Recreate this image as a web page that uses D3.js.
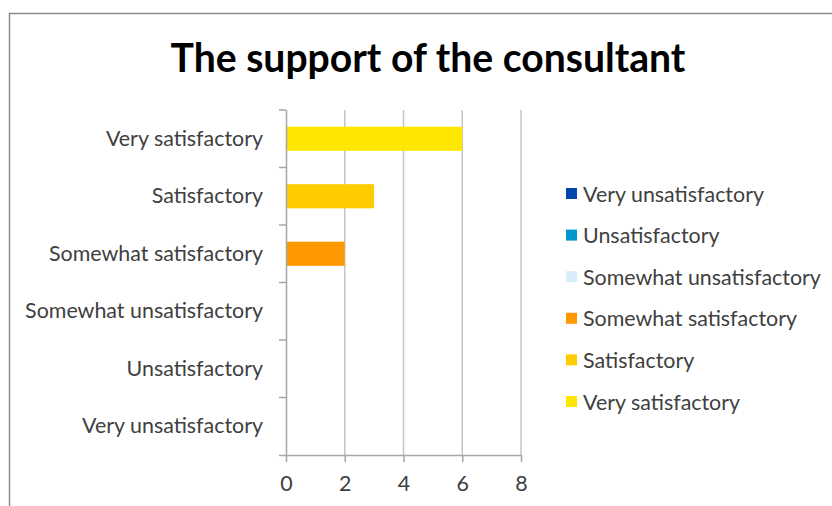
<!DOCTYPE html>
<html><head><meta charset="utf-8">
<script src="https://cdn.jsdelivr.net/npm/d3@7"></script>
<style>body{margin:0;background:#fff}svg{display:block}</style>
</head><body>
<script>
const title = "The support of the consultant";
const categories = ["Very unsatisfactory","Unsatisfactory","Somewhat unsatisfactory","Somewhat satisfactory","Satisfactory","Very satisfactory"];
const values = [0,0,0,2,3,6];
const colors = ["#0047AB","#0099CC","#D9EDF8","#FF9900","#FFCC00","#FFE600"];
const xTicks = [0,2,4,6,8];

const W=832,H=506;
const svg=d3.select("body").append("svg").attr("width",W).attr("height",H);
const font="Lato, 'Open Sans', sans-serif";

function fitSize(txt, weight, target){
  const t=svg.append("text").attr("font-family",font).attr("font-weight",weight).attr("font-size",20).text(txt);
  const w=t.node().getComputedTextLength(); t.remove();
  return 20*target/w;
}
const labelSize=fitSize("Somewhat unsatisfactory","normal",238);
const titleSize=fitSize(title,"bold",515);

svg.append("rect").attr("x",9.5).attr("y",13.5).attr("width",840).attr("height",520)
  .attr("fill","#fff").attr("stroke","#8c8c8c").attr("stroke-width",1.5);

svg.append("text").attr("x",428).attr("y",72).attr("text-anchor","middle")
  .attr("font-family",font).attr("font-weight","bold").attr("font-size",titleSize)
  .attr("fill","#000").text(title);

const x=d3.scaleLinear().domain([0,8]).range([286,521]);
const y=d3.scaleBand().domain(categories.slice().reverse()).range([110,455]).paddingInner(0.58).paddingOuter(0.29);
const yb=d3.scaleBand().domain(categories.slice().reverse()).range([110,455]);

svg.append("g").selectAll("line").data(xTicks.slice(1)).join("line")
  .attr("x1",d=>x(d)).attr("x2",d=>x(d)).attr("y1",110).attr("y2",455)
  .attr("stroke","#c4c4c4").attr("stroke-width",1.5);

svg.append("g").selectAll("rect").data(categories).join("rect")
  .attr("x",x(0)).attr("y",d=>y(d)).attr("height",y.bandwidth())
  .attr("width",(d,i)=>x(values[i])-x(0)).attr("fill",(d,i)=>colors[i]);

const xa=svg.append("g").attr("transform","translate(0,455)")
  .call(d3.axisBottom(x).tickValues(xTicks).tickSize(7).tickPadding(14));
xa.select(".domain").attr("stroke","#a6a6a6").attr("stroke-width",1.5).attr("d","M279,0.5H521.5");
xa.selectAll(".tick line").attr("stroke","#a6a6a6").attr("stroke-width",1.5);
xa.selectAll("text").attr("font-family",font).attr("font-size",labelSize).attr("fill","#404040");

const ya=svg.append("g").attr("transform","translate(286,0)")
  .call(d3.axisLeft(yb).tickSize(0).tickPadding(23));
ya.select(".domain").attr("stroke","#a6a6a6").attr("stroke-width",1.5).attr("d","M0.5,110V455");
ya.selectAll("text").attr("font-family",font).attr("font-size",labelSize).attr("fill","#404040");
svg.append("g").selectAll("line").data(categories).join("line")
  .attr("x1",279).attr("x2",286).attr("y1",d=>yb(d)).attr("y2",d=>yb(d))
  .attr("stroke","#a6a6a6").attr("stroke-width",1.5);

const lg=svg.append("g").selectAll("g").data(categories).join("g")
  .attr("transform",(d,i)=>`translate(566,${194+i*41.6})`);
lg.append("rect").attr("x",0).attr("y",-6).attr("width",11).attr("height",11).attr("fill",(d,i)=>colors[i]);
lg.append("text").attr("x",17).attr("y",0).attr("dy","0.35em").attr("font-family",font)
  .attr("font-size",labelSize).attr("fill","#404040").text(d=>d);
</script>
</body></html>
